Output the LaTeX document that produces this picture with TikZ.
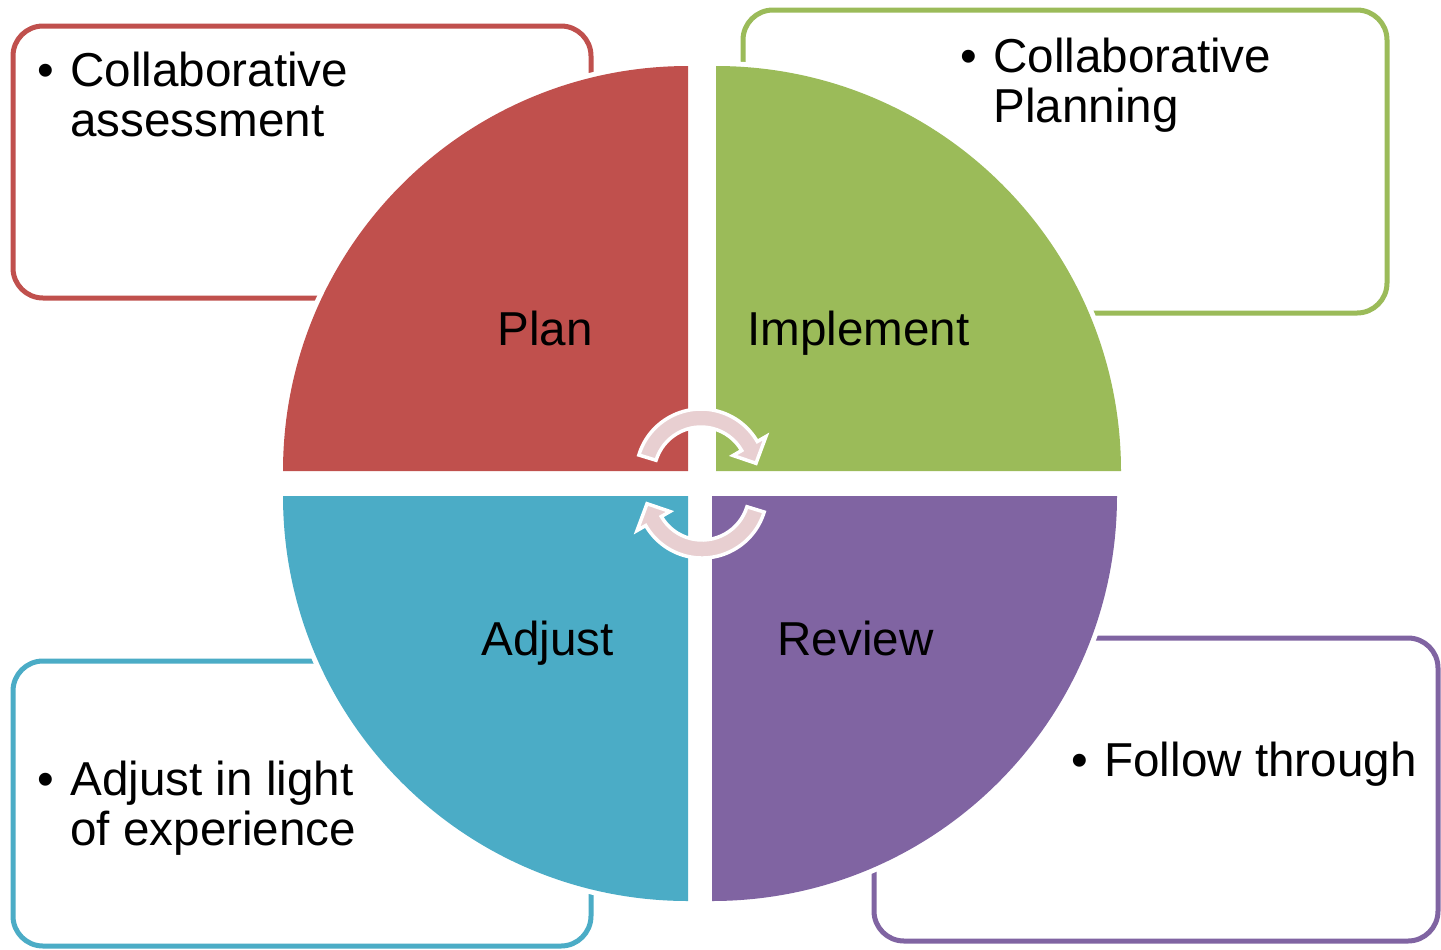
\documentclass[tikz,border=0pt]{standalone}
\usepackage{fontspec}
\setmainfont{Liberation Sans}
\definecolor{cred}{HTML}{C0504D}
\definecolor{cgreen}{HTML}{9BBB59}
\definecolor{cblue}{HTML}{4BACC6}
\definecolor{cpurple}{HTML}{8064A2}
\definecolor{apink}{HTML}{E8CFD1}
\newcommand{\mycyclearrow}{%
  \path[arr] (197:65) arc[start angle=197,end angle=330,radius=65]
    -- (330:75) -- (349:56) -- (330:37) -- (330:47)
    arc[start angle=330,end angle=197,radius=47] -- cycle;}
\begin{document}
\begin{tikzpicture}[x=0.5pt,y=-0.5pt,
  box/.style={line width=2.5pt, rounded corners=15pt},
  txt/.style={inner sep=0pt, anchor=base west, font=\fontsize{23.8}{25}\selectfont, align=left},
  quad/.style={preaction={draw=white,line width=5pt}},
  arr/.style={fill=apink, draw=white, line width=1.75pt, line join=miter}
]
\useasboundingbox[fill=white] (0,0) rectangle (1441,949);
% boxes
\draw[box, cred] (13,26) rectangle (591,298);
\draw[box, cgreen] (743,10) rectangle (1387,313);
\draw[box, cblue] (13,661) rectangle (591,946);
\draw[box, cpurple] (874,638) rectangle (1438,941);
% quadrants
\fill[quad, cred] (688,471) -- (283,471) arc[start angle=180,end angle=270,radius=405] -- cycle;
\fill[quad, cgreen] (716,471) -- (716,66) arc[start angle=270,end angle=360,radius=405] -- cycle;
\fill[quad, cblue] (688,496) -- (688,901) arc[start angle=90,end angle=180,radius=405] -- cycle;
\fill[quad, cpurple] (712,496) -- (1117,496) arc[start angle=0,end angle=90,radius=405] -- cycle;
% cycle arrows
\begin{scope}[shift={(701,474)}]
\mycyclearrow
\end{scope}
\begin{scope}[shift={(702,493)}, rotate=180]
\mycyclearrow
\end{scope}
% quadrant labels
\node[txt] (plan) at (497,345) {Plan};
\node[txt] (impl) at (747,345) {Implement};
\node[txt] (adj) at (481,655) {Adjust};
\node[txt] (rev) at (777,655) {Review};
% box texts (base anchor = last line)
\node[txt] (b1) at (37,86) {•};
\node[txt] (t1) at (70,136) {Collaborative\\assessment};
\node[txt] (b2) at (960,72) {•};
\node[txt] (t2) at (993,122) {Collaborative\\Planning};
\node[txt] (b3) at (37,795) {•};
\node[txt] (t3) at (70,845) {Adjust in light\\of experience};
\node[txt] (b4) at (1071,776) {•};
\node[txt] (t4) at (1104,776) {Follow through};
\end{tikzpicture}
\end{document}
